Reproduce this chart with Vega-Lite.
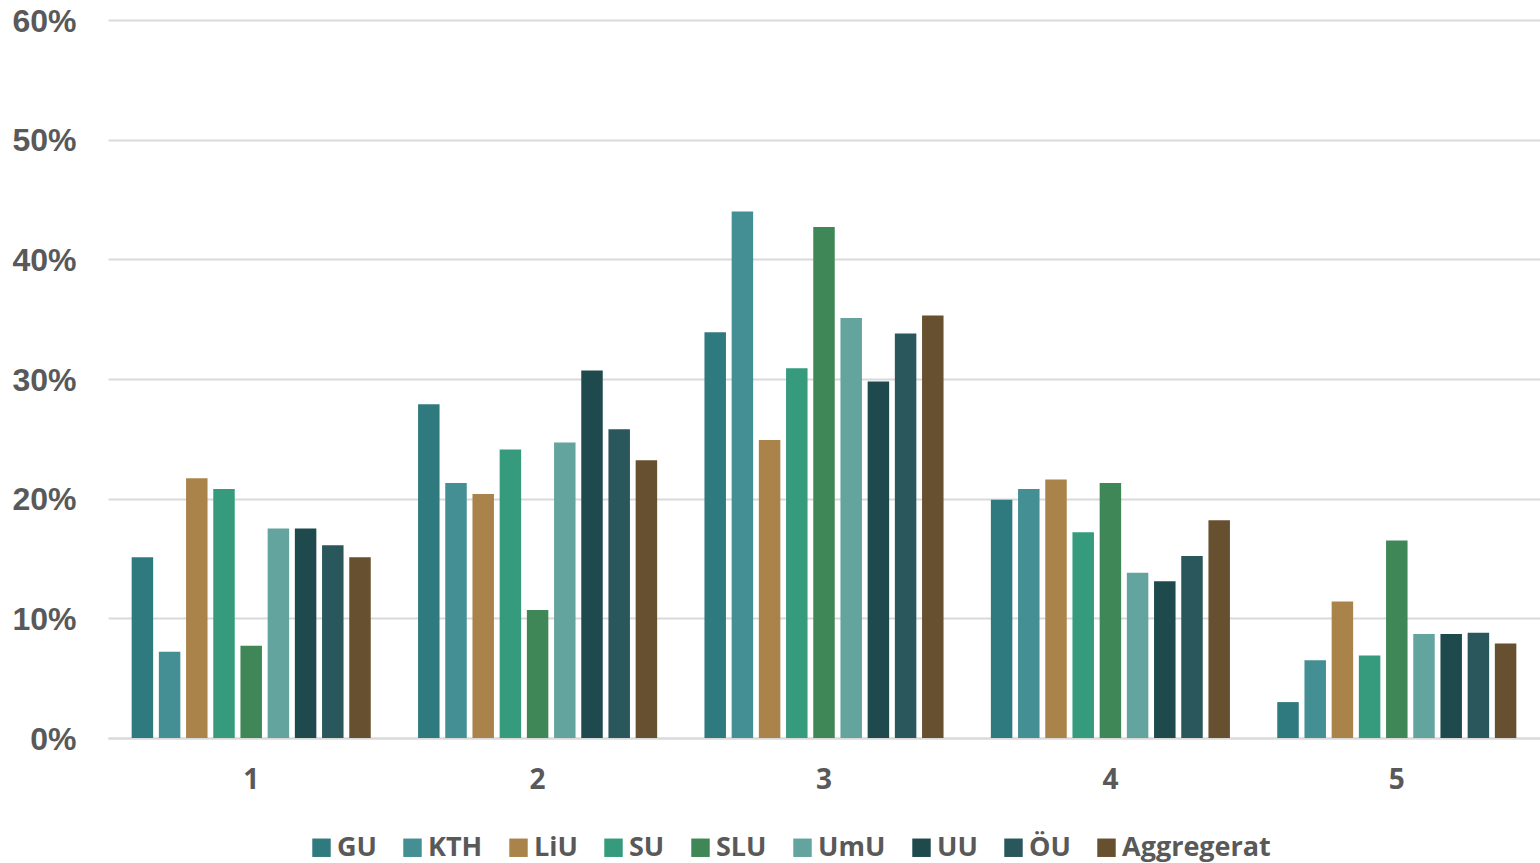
{
  "$schema": "https://vega.github.io/schema/vega-lite/v6.json",
  "width": 1432,
  "height": 718,
  "autosize": {"type": "none"},
  "padding": {"left": 108, "top": 20, "right": 0, "bottom": 125},
  "background": "#ffffff",
  "config": {"view": {"stroke": null}},
  "data": {
    "values": [
      {"group": "1", "uni": "GU", "value": 0.151},
      {"group": "1", "uni": "KTH", "value": 0.072},
      {"group": "1", "uni": "LiU", "value": 0.217},
      {"group": "1", "uni": "SU", "value": 0.208},
      {"group": "1", "uni": "SLU", "value": 0.077},
      {"group": "1", "uni": "UmU", "value": 0.175},
      {"group": "1", "uni": "UU", "value": 0.175},
      {"group": "1", "uni": "ÖU", "value": 0.161},
      {"group": "1", "uni": "Aggregerat", "value": 0.151},
      {"group": "2", "uni": "GU", "value": 0.279},
      {"group": "2", "uni": "KTH", "value": 0.213},
      {"group": "2", "uni": "LiU", "value": 0.204},
      {"group": "2", "uni": "SU", "value": 0.241},
      {"group": "2", "uni": "SLU", "value": 0.107},
      {"group": "2", "uni": "UmU", "value": 0.247},
      {"group": "2", "uni": "UU", "value": 0.307},
      {"group": "2", "uni": "ÖU", "value": 0.258},
      {"group": "2", "uni": "Aggregerat", "value": 0.232},
      {"group": "3", "uni": "GU", "value": 0.339},
      {"group": "3", "uni": "KTH", "value": 0.440},
      {"group": "3", "uni": "LiU", "value": 0.249},
      {"group": "3", "uni": "SU", "value": 0.309},
      {"group": "3", "uni": "SLU", "value": 0.427},
      {"group": "3", "uni": "UmU", "value": 0.351},
      {"group": "3", "uni": "UU", "value": 0.298},
      {"group": "3", "uni": "ÖU", "value": 0.338},
      {"group": "3", "uni": "Aggregerat", "value": 0.353},
      {"group": "4", "uni": "GU", "value": 0.199},
      {"group": "4", "uni": "KTH", "value": 0.208},
      {"group": "4", "uni": "LiU", "value": 0.216},
      {"group": "4", "uni": "SU", "value": 0.172},
      {"group": "4", "uni": "SLU", "value": 0.213},
      {"group": "4", "uni": "UmU", "value": 0.138},
      {"group": "4", "uni": "UU", "value": 0.131},
      {"group": "4", "uni": "ÖU", "value": 0.152},
      {"group": "4", "uni": "Aggregerat", "value": 0.182},
      {"group": "5", "uni": "GU", "value": 0.030},
      {"group": "5", "uni": "KTH", "value": 0.065},
      {"group": "5", "uni": "LiU", "value": 0.114},
      {"group": "5", "uni": "SU", "value": 0.069},
      {"group": "5", "uni": "SLU", "value": 0.165},
      {"group": "5", "uni": "UmU", "value": 0.087},
      {"group": "5", "uni": "UU", "value": 0.087},
      {"group": "5", "uni": "ÖU", "value": 0.088},
      {"group": "5", "uni": "Aggregerat", "value": 0.079}
    ]
  },
  "mark": {"type": "bar"},
  "encoding": {
    "x": {
      "field": "group",
      "type": "nominal",
      "scale": {"paddingInner": 0, "paddingOuter": 0},
      "axis": {
        "title": null,
        "labelAngle": 0,
        "labelFont": "Open Sans",
        "labelFontWeight": "bold",
        "labelFontSize": 28,
        "labelColor": "#595959",
        "labelPadding": 28,
        "ticks": false,
        "domain": true,
        "domainColor": "#d9d9d9",
        "domainWidth": 2
      }
    },
    "xOffset": {
      "field": "uni",
      "type": "nominal",
      "sort": ["GU", "KTH", "LiU", "SU", "SLU", "UmU", "UU", "ÖU", "Aggregerat"],
      "scale": {"paddingInner": 0.21, "paddingOuter": 0.87}
    },
    "y": {
      "field": "value",
      "type": "quantitative",
      "scale": {"domain": [0, 0.6], "nice": false},
      "axis": {
        "title": null,
        "values": [0, 0.1, 0.2, 0.3, 0.4, 0.5, 0.6],
        "format": ".0%",
        "labelFont": "Liberation Sans",
        "labelFontWeight": "bold",
        "labelFontSize": 32,
        "labelColor": "#595959",
        "labelPadding": 32,
        "labelOffset": 1,
        "ticks": false,
        "domain": false,
        "grid": true,
        "gridColor": "#d9d9d9",
        "gridWidth": 2
      }
    },
    "color": {
      "field": "uni",
      "type": "nominal",
      "scale": {
        "domain": ["GU", "KTH", "LiU", "SU", "SLU", "UmU", "UU", "ÖU", "Aggregerat"],
        "range": ["#2F7A7E", "#438F93", "#AA834B", "#359B7C", "#3F8756", "#64A49E", "#1F4A4D", "#2A575B", "#67502F"]
      },
      "legend": {
        "title": null,
        "orient": "none",
        "direction": "horizontal",
        "legendX": 200,
        "legendY": 814,
        "labelFont": "Open Sans",
        "labelFontWeight": "bold",
        "labelFontSize": 27,
        "labelColor": "#595959",
        "labelOffset": 2,
        "columnPadding": 22,
        "symbolType": "square",
        "symbolSize": 340,
        "symbolStrokeWidth": 0,
        "symbolOpacity": 1
      }
    }
  }
}
